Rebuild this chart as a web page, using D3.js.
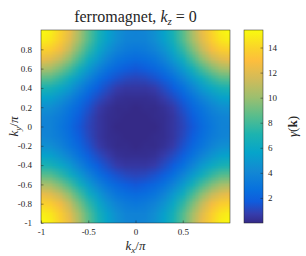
<!DOCTYPE html>
<html>
<head>
<meta charset="utf-8">
<script src="https://cdn.jsdelivr.net/npm/d3@7"></script>
<style>
body { margin: 0; background: #fff; }
svg { display: block; }
text { font-family: "Liberation Serif", "DejaVu Serif", serif; fill: #262626; }
</style>
</head>
<body>
<div id="chart"></div>
<script>
// grid of the map (kx, ky in units of pi)
const kxValues = [-1, -0.9, -0.8, -0.7, -0.6, -0.5, -0.4, -0.3, -0.2, -0.1, 0, 0.1, 0.2, 0.3, 0.4, 0.5, 0.6, 0.7, 0.8, 0.9, 1];
const kyValues = [1, 0.9, 0.8, 0.7, 0.6, 0.5, 0.4, 0.3, 0.2, 0.1, 0, -0.1, -0.2, -0.3, -0.4, -0.5, -0.6, -0.7, -0.8, -0.9, -1];
// gamma(k), one row per ky (top to bottom), one value per kx (left to right)
const gammaRows = [
  [15.4, 15.0, 13.9, 12.4, 10.5, 8.6, 7.0, 5.6, 4.6, 4.0, 3.8, 4.0, 4.6, 5.6, 7.0, 8.6, 10.5, 12.4, 13.9, 15.0, 15.4],
  [15.0, 14.6, 13.6, 12.0, 10.2, 8.4, 6.7, 5.4, 4.4, 3.8, 3.7, 3.8, 4.4, 5.4, 6.7, 8.4, 10.2, 12.0, 13.6, 14.6, 15.0],
  [13.9, 13.6, 12.6, 11.1, 9.3, 7.6, 6.0, 4.7, 3.8, 3.3, 3.1, 3.3, 3.8, 4.7, 6.0, 7.6, 9.3, 11.1, 12.6, 13.6, 13.9],
  [12.4, 12.0, 11.1, 9.7, 8.1, 6.4, 5.0, 3.8, 3.0, 2.6, 2.4, 2.6, 3.0, 3.8, 5.0, 6.4, 8.1, 9.7, 11.1, 12.0, 12.4],
  [10.5, 10.2, 9.3, 8.1, 6.6, 5.1, 3.8, 2.8, 2.2, 1.8, 1.6, 1.8, 2.2, 2.8, 3.8, 5.1, 6.6, 8.1, 9.3, 10.2, 10.5],
  [8.6, 8.4, 7.6, 6.4, 5.1, 3.8, 2.7, 1.9, 1.4, 1.1, 1.0, 1.1, 1.4, 1.9, 2.7, 3.8, 5.1, 6.4, 7.6, 8.4, 8.6],
  [7.0, 6.7, 6.0, 5.0, 3.8, 2.7, 1.8, 1.2, 0.7, 0.5, 0.5, 0.5, 0.7, 1.2, 1.8, 2.7, 3.8, 5.0, 6.0, 6.7, 7.0],
  [5.6, 5.4, 4.7, 3.8, 2.8, 1.9, 1.2, 0.7, 0.3, 0.2, 0.2, 0.2, 0.3, 0.7, 1.2, 1.9, 2.8, 3.8, 4.7, 5.4, 5.6],
  [4.6, 4.4, 3.8, 3.0, 2.2, 1.4, 0.7, 0.3, 0.1, 0.1, 0.0, 0.1, 0.1, 0.3, 0.7, 1.4, 2.2, 3.0, 3.8, 4.4, 4.6],
  [4.0, 3.8, 3.3, 2.6, 1.8, 1.1, 0.5, 0.2, 0.1, 0.0, 0.0, 0.0, 0.1, 0.2, 0.5, 1.1, 1.8, 2.6, 3.3, 3.8, 4.0],
  [3.8, 3.7, 3.1, 2.4, 1.6, 1.0, 0.5, 0.2, 0.0, 0.0, 0.0, 0.0, 0.0, 0.2, 0.5, 1.0, 1.6, 2.4, 3.1, 3.7, 3.8],
  [4.0, 3.8, 3.3, 2.6, 1.8, 1.1, 0.5, 0.2, 0.1, 0.0, 0.0, 0.0, 0.1, 0.2, 0.5, 1.1, 1.8, 2.6, 3.3, 3.8, 4.0],
  [4.6, 4.4, 3.8, 3.0, 2.2, 1.4, 0.7, 0.3, 0.1, 0.1, 0.0, 0.1, 0.1, 0.3, 0.7, 1.4, 2.2, 3.0, 3.8, 4.4, 4.6],
  [5.6, 5.4, 4.7, 3.8, 2.8, 1.9, 1.2, 0.7, 0.3, 0.2, 0.2, 0.2, 0.3, 0.7, 1.2, 1.9, 2.8, 3.8, 4.7, 5.4, 5.6],
  [7.0, 6.7, 6.0, 5.0, 3.8, 2.7, 1.8, 1.2, 0.7, 0.5, 0.5, 0.5, 0.7, 1.2, 1.8, 2.7, 3.8, 5.0, 6.0, 6.7, 7.0],
  [8.6, 8.4, 7.6, 6.4, 5.1, 3.8, 2.7, 1.9, 1.4, 1.1, 1.0, 1.1, 1.4, 1.9, 2.7, 3.8, 5.1, 6.4, 7.6, 8.4, 8.6],
  [10.5, 10.2, 9.3, 8.1, 6.6, 5.1, 3.8, 2.8, 2.2, 1.8, 1.6, 1.8, 2.2, 2.8, 3.8, 5.1, 6.6, 8.1, 9.3, 10.2, 10.5],
  [12.4, 12.0, 11.1, 9.7, 8.1, 6.4, 5.0, 3.8, 3.0, 2.6, 2.4, 2.6, 3.0, 3.8, 5.0, 6.4, 8.1, 9.7, 11.1, 12.0, 12.4],
  [13.9, 13.6, 12.6, 11.1, 9.3, 7.6, 6.0, 4.7, 3.8, 3.3, 3.1, 3.3, 3.8, 4.7, 6.0, 7.6, 9.3, 11.1, 12.6, 13.6, 13.9],
  [15.0, 14.6, 13.6, 12.0, 10.2, 8.4, 6.7, 5.4, 4.4, 3.8, 3.7, 3.8, 4.4, 5.4, 6.7, 8.4, 10.2, 12.0, 13.6, 14.6, 15.0],
  [15.4, 15.0, 13.9, 12.4, 10.5, 8.6, 7.0, 5.6, 4.6, 4.0, 3.8, 4.0, 4.6, 5.6, 7.0, 8.6, 10.5, 12.4, 13.9, 15.0, 15.4]
];
const xTicks = [-1, -0.5, 0, 0.5];
const yTicks = [-1, -0.8, -0.6, -0.4, -0.2, 0, 0.2, 0.4, 0.6, 0.8];
const cbTicks = [2, 4, 6, 8, 10, 12, 14];

// parula colour stops (positions in 0..1)
const parulaPos = [0, 3, 7, 11, 17, 23, 29, 35, 41, 47, 53, 57, 63].map(i => i / 63);
const parulaCol = ['#352a87', '#353dad', '#0f5cdd', '#0871de', '#1389d3', '#06a4ca', '#1db3af',
                   '#59bd8c', '#9cbf6f', '#d1bb59', '#fdbe3d', '#fad32a', '#f9fb0e'];

const width = 306, height = 256;
const plot = {left: 41, right: 230, top: 30, bottom: 223};
const bar = {left: 244, right: 263};

const svg = d3.select('#chart').append('svg').attr('width', width).attr('height', height);

const x = d3.scaleLinear().domain([-1, 1]).range([plot.left, plot.right]);
const y = d3.scaleLinear().domain([-1, 1]).range([plot.bottom, plot.top]);
const cExtent = d3.extent(gammaRows.flat());
const color = d3.scaleLinear()
    .domain(parulaPos.map(p => cExtent[0] + p * (cExtent[1] - cExtent[0])))
    .range(parulaCol).interpolate(d3.interpolateRgb).clamp(true);

// heatmap: one pixel per grid value, stretched (smoothed) by the browser
const canvas = document.createElement('canvas');
canvas.width = kxValues.length; canvas.height = kyValues.length;
const ctx = canvas.getContext('2d');
gammaRows.forEach((row, r) => row.forEach((v, c) => {
    ctx.fillStyle = color(v);
    ctx.fillRect(c, r, 1, 1);
}));
const hx = (kxValues[1] - kxValues[0]) / 2, hy = (kyValues[0] - kyValues[1]) / 2;
svg.append('clipPath').attr('id', 'plotclip').append('rect')
    .attr('x', plot.left).attr('y', plot.top)
    .attr('width', plot.right - plot.left).attr('height', plot.bottom - plot.top);
svg.append('image')
    .attr('href', canvas.toDataURL())
    .attr('x', x(kxValues[0] - hx)).attr('y', y(kyValues[0] + hy))
    .attr('width', x(kxValues[kxValues.length - 1] + hx) - x(kxValues[0] - hx))
    .attr('height', y(kyValues[kyValues.length - 1] - hy) - y(kyValues[0] + hy))
    .attr('preserveAspectRatio', 'none')
    .attr('clip-path', 'url(#plotclip)');

// axes, matlab style: inward ticks, box
const styleAxis = g => {
    g.select('.domain').remove();
    g.selectAll('line').attr('stroke', '#262626').attr('stroke-width', 0.5);
    g.selectAll('text').attr('font-size', 9).attr('fill', '#262626');
};
svg.append('g').attr('transform', `translate(0, ${plot.bottom})`)
    .call(d3.axisBottom(x).tickValues(xTicks).tickFormat(d => String(d)).tickSizeInner(-2.5).tickSizeOuter(0).tickPadding(6))
    .call(styleAxis);
svg.append('g').attr('transform', `translate(${plot.left}, 0)`)
    .call(d3.axisLeft(y).tickValues(yTicks).tickFormat(d => String(d)).tickSizeInner(-2.5).tickSizeOuter(0).tickPadding(9))
    .call(styleAxis);
svg.append('rect')
    .attr('x', plot.left).attr('y', plot.top)
    .attr('width', plot.right - plot.left).attr('height', plot.bottom - plot.top)
    .attr('fill', 'none').attr('stroke', '#262626').attr('stroke-width', 0.5);

// colorbar
const cy = d3.scaleLinear().domain(cExtent).range([plot.bottom, plot.top]);
const grad = svg.append('defs').append('linearGradient').attr('id', 'cbgrad')
    .attr('x1', 0).attr('y1', 1).attr('x2', 0).attr('y2', 0);
grad.selectAll('stop').data(parulaPos).enter().append('stop')
    .attr('offset', d => d).attr('stop-color', (d, i) => parulaCol[i]);
svg.append('rect')
    .attr('x', bar.left).attr('y', plot.top)
    .attr('width', bar.right - bar.left).attr('height', plot.bottom - plot.top)
    .attr('fill', 'url(#cbgrad)').attr('stroke', '#262626').attr('stroke-width', 0.5);
svg.append('g').attr('transform', `translate(${bar.right}, 0)`)
    .call(d3.axisRight(cy).tickValues(cbTicks).tickSizeInner(-2.5).tickSizeOuter(0).tickPadding(5))
    .call(styleAxis);

// title and labels
const title = svg.append('text').attr('x', (plot.left + plot.right) / 2).attr('y', 22)
    .attr('text-anchor', 'middle').attr('font-size', 16);
title.append('tspan').text('ferromagnet, ');
title.append('tspan').attr('font-style', 'italic').text('k');
title.append('tspan').attr('font-style', 'italic').attr('font-size', 11).attr('dy', 3).text('z');
title.append('tspan').attr('dy', -3).text(' = 0');

const xl = svg.append('text').attr('x', (plot.left + plot.right) / 2).attr('y', 250)
    .attr('text-anchor', 'middle').attr('font-size', 13);
xl.append('tspan').attr('font-style', 'italic').text('k');
xl.append('tspan').attr('font-style', 'italic').attr('font-size', 9).attr('dy', 3).text('x');
xl.append('tspan').attr('dy', -3).text('/');
xl.append('tspan').attr('font-style', 'italic').text('π');

const yl = svg.append('text').attr('transform', `translate(18, ${(plot.top + plot.bottom) / 2}) rotate(-90)`)
    .attr('text-anchor', 'middle').attr('font-size', 13);
yl.append('tspan').attr('font-style', 'italic').text('k');
yl.append('tspan').attr('font-style', 'italic').attr('font-size', 9).attr('dy', 3).text('y');
yl.append('tspan').attr('dy', -3).text('/');
yl.append('tspan').attr('font-style', 'italic').text('π');

const cl = svg.append('text').attr('transform', `translate(297, ${(plot.top + plot.bottom) / 2}) rotate(-90)`)
    .attr('text-anchor', 'middle').attr('font-size', 13);
cl.append('tspan').attr('font-style', 'italic').text('γ');
cl.append('tspan').text('(');
cl.append('tspan').attr('font-weight', 'bold').text('k');
cl.append('tspan').text(')');
</script>
</body>
</html>
